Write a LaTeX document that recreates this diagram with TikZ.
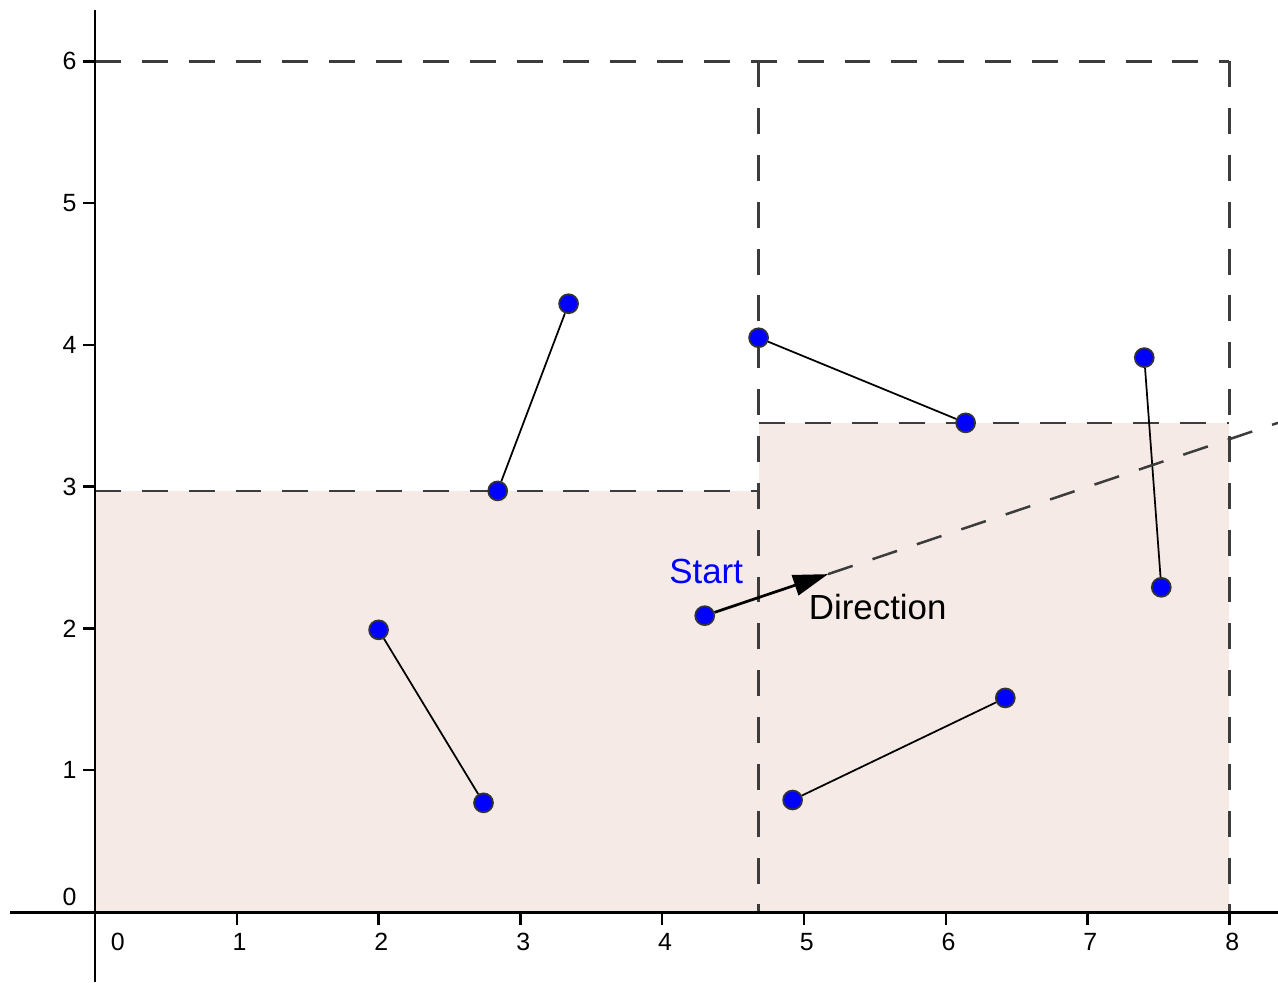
\documentclass[tikz,border=0pt]{standalone}
\usepackage{fontspec}
\setmainfont{Liberation Sans}
\usetikzlibrary{arrows.meta}
\definecolor{regionfill}{RGB}{245,234,230}
\definecolor{dashgray}{RGB}{60,60,60}
\definecolor{ptblue}{RGB}{0,0,255}
\tikzset{
  pt/.style={circle,fill=ptblue,draw=black!80,line width=0.35pt,inner sep=0pt,minimum size=3.8pt},
  seg/.style={line width=0.35pt,black},
  grid dash/.style={dashgray,line width=0.5pt,dash pattern=on 5.2pt off 4.2pt},
  axis/.style={line width=0.6pt,black},
  ticklab/.style={font=\fontsize{5}{6}\selectfont,inner sep=0pt},
  lab/.style={font=\fontsize{7}{8}\selectfont,inner sep=0pt}
}
\begin{document}
\begin{tikzpicture}[x=1cm,y=1cm]
\useasboundingbox (-0.67,-0.494) rectangle (8.343,6.432);
% shaded regions
\fill[regionfill] (0,0) rectangle (4.68,2.97);
\fill[regionfill] (4.68,0) rectangle (8,3.45);
% dashed partition lines
\draw[grid dash] (0,6) -- (8,6);
\draw[grid dash] (8,6) -- (8,0);
\draw[grid dash] (4.68,6) -- (4.68,0);
\draw[grid dash] (0,2.97) -- (4.68,2.97);
\draw[grid dash] (4.68,3.45) -- (8,3.45);
% axes
\draw[axis] (-0.6,0) -- (8.343,0);
\draw[axis] (0,-0.494) -- (0,6.36);
\foreach \i in {1,...,8} {
  \draw[line width=0.5pt] (\i,0) -- (\i,-0.09);
  \node[ticklab] at (\i+0.02,-0.21) {\i};
}
\node[ticklab] at (0.16,-0.21) {0};
\foreach \j in {1,...,6} {
  \draw[line width=0.5pt] (0,\j) -- (-0.085,\j);
  \node[ticklab] at (-0.18,\j) {\j};
}
\node[ticklab] at (-0.18,0.11) {0};
% points
\node[pt] (a1) at (2.00,1.99) {};
\node[pt] (a2) at (2.74,0.77) {};
\node[pt] (b1) at (2.84,2.97) {};
\node[pt] (b2) at (3.34,4.29) {};
\node[pt] (c1) at (4.68,4.05) {};
\node[pt] (c2) at (6.14,3.45) {};
\node[pt] (d1) at (7.40,3.91) {};
\node[pt] (d2) at (7.52,2.29) {};
\node[pt] (e1) at (4.92,0.79) {};
\node[pt] (e2) at (6.42,1.51) {};
\draw[seg] (a1) -- (a2);
\draw[seg] (b1) -- (b2);
\draw[seg] (c1) -- (c2);
\draw[seg] (d1) -- (d2);
\draw[seg] (e1) -- (e2);
% ray
\node[pt] (start) at (4.30,2.09) {};
\coordinate (tip) at (5.17,2.383);
\coordinate (far) at (8.343,3.45);
\draw[line width=0.55pt,-{Triangle[length=7pt,width=4.2pt]}] (start) -- (tip);
\draw[grid dash] (tip) -- (far);
\node[lab,text=ptblue] (slab) at (4.31,2.40) {Start};
\node[lab] (dlab) at (5.52,2.15) {Direction};
\end{tikzpicture}
\end{document}
